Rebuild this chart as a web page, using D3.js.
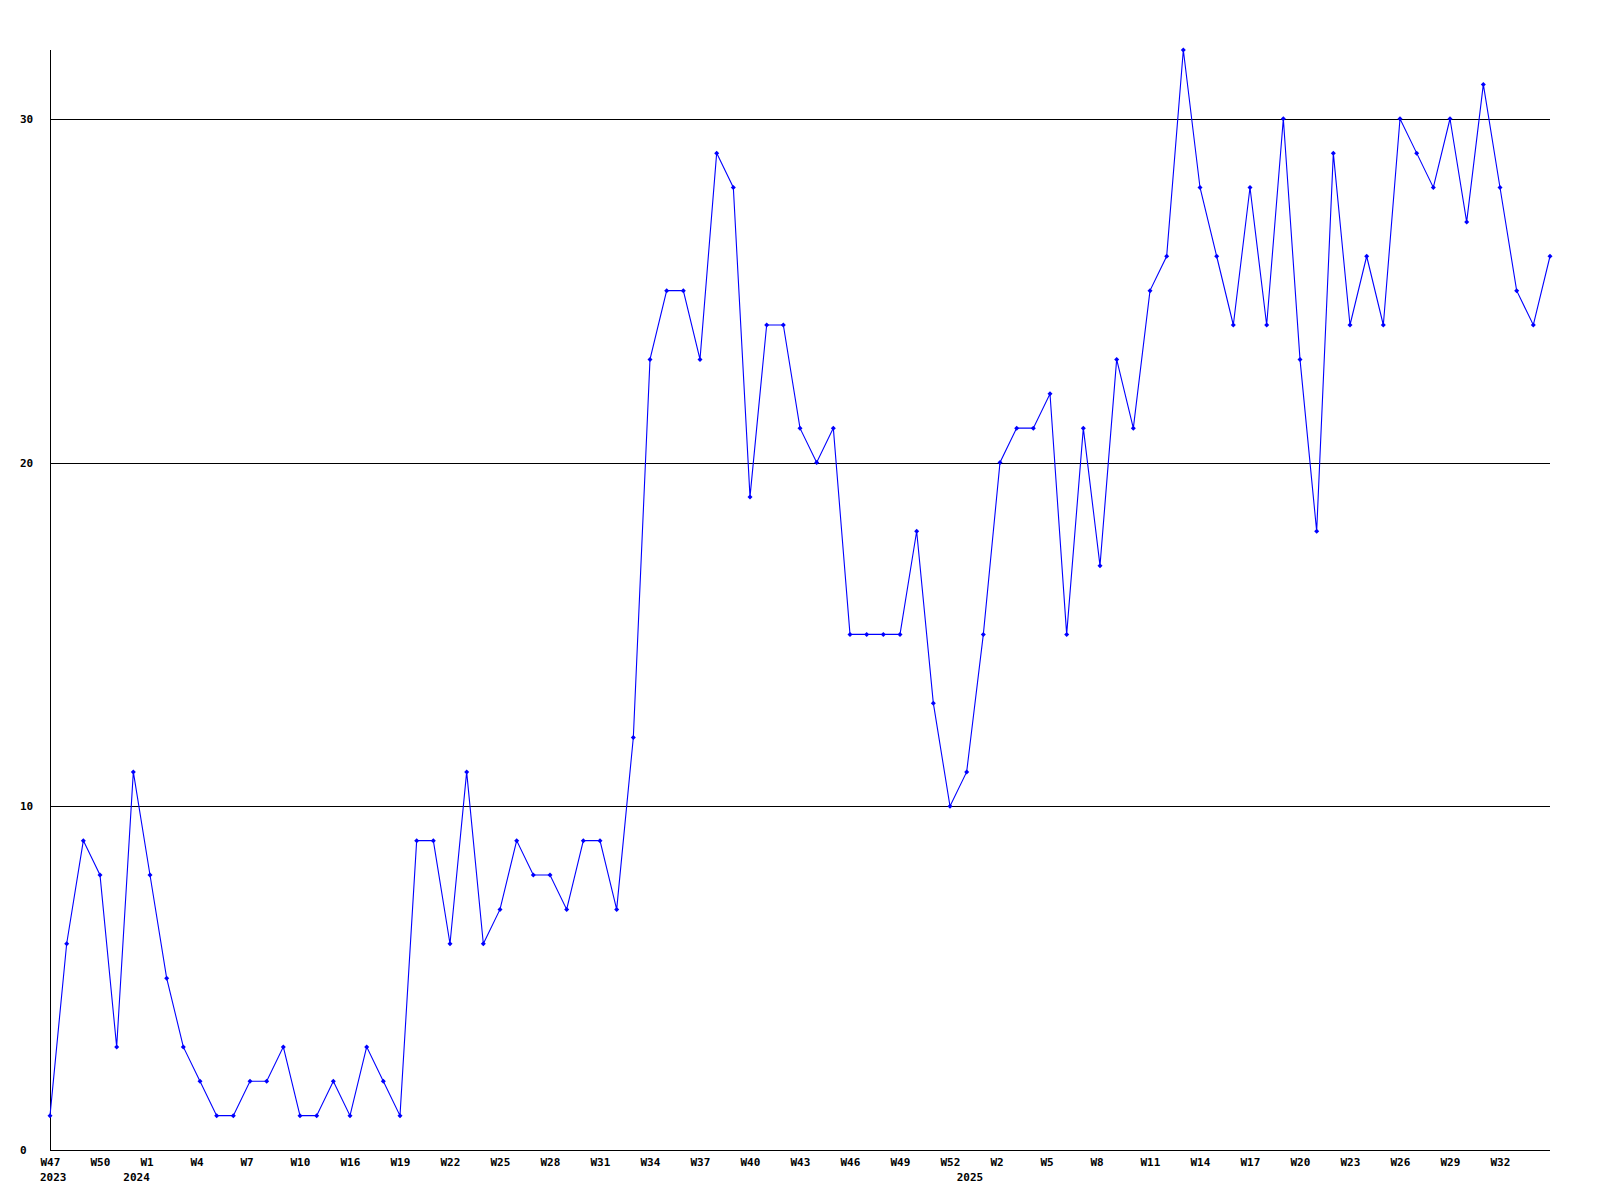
<!DOCTYPE html>
<html>
<head>
<meta charset="utf-8">
<script src="https://cdn.jsdelivr.net/npm/d3@7"></script>
<style>
  html, body { margin: 0; padding: 0; background: #fff; }
  svg text { font-family: "DejaVu Sans Mono", "Liberation Mono", monospace; font-weight: bold; font-size: 11px; fill: #000; }
</style>
</head>
<body>
<svg id="chart" width="1600" height="1200"></svg>
<script>
// Weekly categories
const categories = [
  "2023-W47","2023-W48","2023-W49","2023-W50","2023-W51","2023-W52",
  "2024-W01","2024-W02","2024-W03","2024-W04","2024-W05","2024-W06","2024-W07","2024-W08","2024-W09","2024-W10",
  "2024-W14","2024-W15",
  "2024-W16","2024-W17","2024-W18","2024-W19","2024-W20","2024-W21","2024-W22","2024-W23","2024-W24","2024-W25",
  "2024-W26","2024-W27","2024-W28","2024-W29","2024-W30","2024-W31","2024-W32","2024-W33","2024-W34","2024-W35",
  "2024-W36","2024-W37","2024-W38","2024-W39","2024-W40","2024-W41","2024-W42","2024-W43","2024-W44","2024-W45",
  "2024-W46","2024-W47","2024-W48","2024-W49","2024-W50","2024-W51","2024-W52",
  "2024-W53",
  "2025-W01","2025-W02","2025-W03","2025-W04","2025-W05","2025-W06","2025-W07","2025-W08","2025-W09","2025-W10",
  "2025-W11","2025-W12","2025-W13","2025-W14","2025-W15","2025-W16","2025-W17","2025-W18","2025-W19","2025-W20",
  "2025-W21","2025-W22","2025-W23","2025-W24","2025-W25","2025-W26","2025-W27","2025-W28","2025-W29","2025-W30",
  "2025-W31","2025-W32","2025-W33","2025-W34","2025-W35"
];

// Series values
const values = [
  1, 6, 9, 8, 3, 11, 8, 5, 3, 2,
  1, 1, 2, 2, 3, 1, 1, 2, 1, 3,
  2, 1, 9, 9, 6, 11, 6, 7, 9, 8,
  8, 7, 9, 9, 7, 12, 23, 25, 25, 23,
  29, 28, 19, 24, 24, 21, 20, 21, 15, 15,
  15, 15, 18, 13, 10, 11, 15, 20, 21, 21,
  22, 15, 21, 17, 23, 21, 25, 26, 32, 28,
  26, 24, 28, 24, 30, 23, 18, 29, 24, 26,
  24, 30, 29, 28, 30, 27, 31, 28, 25, 24,
  26
];

// Tick labels on the x axis (every third week)
const xTickCategories = [
  "2023-W47","2023-W50","2024-W01","2024-W04","2024-W07","2024-W10","2024-W16","2024-W19","2024-W22","2024-W25",
  "2024-W28","2024-W31","2024-W34","2024-W37","2024-W40","2024-W43","2024-W46","2024-W49","2024-W52","2025-W02",
  "2025-W05","2025-W08","2025-W11","2025-W14","2025-W17","2025-W20","2025-W23","2025-W26","2025-W29","2025-W32"
];
const xTickLabels = [
  "W47","W50","W1","W4","W7","W10","W16","W19","W22","W25",
  "W28","W31","W34","W37","W40","W43","W46","W49","W52","W2",
  "W5","W8","W11","W14","W17","W20","W23","W26","W29","W32"
];
// Year labels under the axis, and the week they sit under
const yearLabels = ["2023", "2024", "2025"];
const yearCategories = ["2023-W47", "2023-W52", "2024-W53"];

// Y axis ticks
const yTicks = [0, 10, 20, 30];
const yGrid = [10, 20, 30];
const yMax = 32;

(function () {
  const svg = d3.select("#chart");
  const mLeft = 50, mRight = 1550, mTop = 50, mBottom = 1150;

  const x = d3.scalePoint().domain(categories).range([mLeft, mRight]);
  const y = d3.scaleLinear().domain([0, yMax]).range([mBottom, mTop]);

  // gridlines
  svg.append("g")
    .attr("transform", `translate(${mLeft},0)`)
    .call(d3.axisLeft(y).tickValues(yGrid).tickSize(-(mRight - mLeft)).tickFormat(""))
    .call(g => g.select(".domain").remove())
    .call(g => g.selectAll("line").attr("stroke", "#000").attr("stroke-width", 1).attr("shape-rendering", "crispEdges"));

  // y axis
  svg.append("g")
    .attr("transform", `translate(${mLeft},0)`)
    .call(d3.axisLeft(y).tickValues(yTicks).tickSize(0).tickFormat(d3.format("d")))
    .call(g => g.select(".domain").attr("d", `M0,${mTop}V${mBottom}`).attr("stroke", "#000").attr("shape-rendering", "crispEdges"))
    .call(g => g.selectAll("text")
      .attr("x", -30).attr("dy", "0.32em")
      .attr("text-anchor", "start")
      .attr("font-family", null).attr("font-size", null));

  // x axis
  const labelMap = new Map(xTickCategories.map((c, i) => [c, xTickLabels[i]]));
  svg.append("g")
    .attr("transform", `translate(0,${mBottom})`)
    .call(d3.axisBottom(x).tickValues(xTickCategories).tickSize(0).tickFormat(d => labelMap.get(d)))
    .call(g => g.select(".domain").attr("d", `M${mLeft},0H${mRight}`).attr("stroke", "#000").attr("shape-rendering", "crispEdges"))
    .call(g => g.selectAll("text")
      .attr("x", -10).attr("y", 8).attr("dy", "0.71em")
      .attr("text-anchor", "start")
      .attr("font-family", null).attr("font-size", null));

  // year labels
  svg.append("g")
    .selectAll("text")
    .data(yearLabels)
    .join("text")
    .attr("x", (d, i) => x(yearCategories[i]) - 10)
    .attr("y", mBottom + 31)
    .attr("text-anchor", "start")
    .text(d => d);

  const data = categories.map((c, i) => ({ c, v: values[i] }));

  // line
  svg.append("path")
    .datum(data)
    .attr("fill", "none")
    .attr("stroke", "#0000ff")
    .attr("stroke-width", 1.1)
    .attr("d", d3.line().x(d => x(d.c)).y(d => y(d.v)));

  // markers
  svg.append("g")
    .selectAll("path")
    .data(data)
    .join("path")
    .attr("transform", d => `translate(${x(d.c)},${y(d.v)})`)
    .attr("d", "M0,-2.5L2.5,0L0,2.5L-2.5,0Z")
    .attr("fill", "#0000ff");
})();
</script>
</body>
</html>
